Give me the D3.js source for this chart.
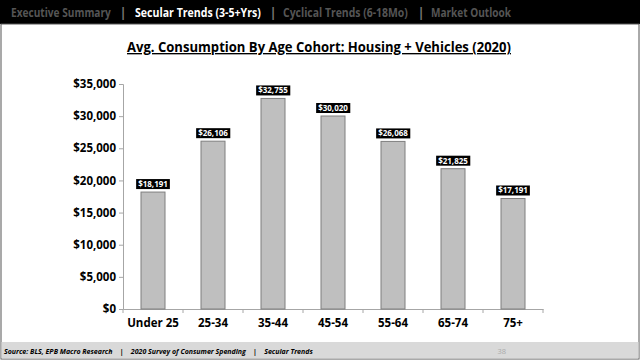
<!DOCTYPE html>
<html><head><meta charset="utf-8">
<script src="https://cdn.jsdelivr.net/npm/d3@7/dist/d3.min.js"></script>
<style>body{margin:0;background:#fff}svg{display:block}</style>
</head><body>
<script>
const categories = ["Under 25","25-34","35-44","45-54","55-64","65-74","75+"];
const values = [18191,26106,32755,30020,26068,21825,17191];
const yTicks = [0,5000,10000,15000,20000,25000,30000,35000];
const navItems = ["Executive Summary","Secular Trends (3-5+Yrs)","Cyclical Trends (6-18Mo)","Market Outlook"];
const title = "Avg. Consumption By Age Cohort: Housing + Vehicles (2020)";
const footerText = "Source: BLS, EPB Macro Research    |    2020 Survey of Consumer Spending    |    Secular Trends";

const W=640,H=360;
const svg=d3.select("body").append("svg").attr("width",W).attr("height",H);
const font="'Open Sans','DejaVu Sans',sans-serif";

// frame
svg.append("rect").attr("x",0).attr("y",0).attr("width",W).attr("height",H).attr("fill","#fff");
svg.append("rect").attr("x",0).attr("y",0).attr("width",W).attr("height",24).attr("fill","#000");
svg.append("rect").attr("x",1).attr("y",24).attr("width",W-2).attr("height",H-25).attr("fill","none").attr("stroke","#555").attr("stroke-width",1);
svg.append("rect").attr("x",1.5).attr("y",342).attr("width",W-3).attr("height",16.5).attr("fill","#d9d9d9");

// nav
const navX=[11,135,283,431];
const navW=[100,126,125,80];
const sepX=[123,273,421];
navItems.forEach((t,i)=>{
  const g=svg.append("g");
  const el=g.append("text").attr("x",0).attr("y",0).attr("font-family",font).attr("font-weight","bold")
    .attr("font-size",13).attr("fill",i===1?"#fff":"#555").text(t);
  const w=el.node().getComputedTextLength();
  g.attr("transform",`translate(${navX[i]},17) scale(${navW[i]/w},1)`);
});
sepX.forEach(x=>svg.append("text").attr("x",x).attr("y",17).attr("text-anchor","middle").attr("font-family",font).attr("font-size",13).attr("font-weight","bold").attr("fill","#777").text("|"));

// title
svg.append("text").attr("x",319).attr("y",52).attr("text-anchor","middle").attr("font-family",font)
  .attr("font-weight","bold").attr("font-size",13.5).attr("fill","#000").attr("text-decoration","underline")
  .attr("textLength",384).attr("lengthAdjust","spacingAndGlyphs").text(title);

// scales
const x=d3.scaleBand().domain(categories).range([123,543]).paddingInner(0.6).paddingOuter(0.3);
const y=d3.scaleLinear().domain([0,35000]).range([309,84]);

// y axis
const ya=svg.append("g").attr("transform","translate(123,0)")
  .call(d3.axisLeft(y).tickValues(yTicks).tickSize(4).tickFormat(d=>"$"+d3.format(",")(d)));
ya.select(".domain").attr("stroke","#a6a6a6");
ya.selectAll(".tick line").attr("stroke","#a6a6a6");
ya.selectAll("text").attr("font-family",font).attr("font-weight","bold").attr("font-size",11.5).attr("fill","#000").attr("x",-7);

// x axis
const xa=svg.append("g").attr("transform","translate(0,309)")
  .call(d3.axisBottom(x).tickSize(0));
xa.select(".domain").attr("stroke","#a6a6a6");
xa.selectAll("text").attr("font-family",font).attr("font-weight","bold").attr("font-size",11.5).attr("fill","#000").attr("dy","1.3em");
const bounds=d3.range(categories.length+1).map(i=>123+i*(420/categories.length));
xa.selectAll(".bt").data(bounds).enter().append("line").attr("x1",d=>d).attr("x2",d=>d).attr("y1",0).attr("y2",4).attr("stroke","#a6a6a6");

// bars
svg.selectAll(".bar").data(values).enter().append("rect")
  .attr("x",(d,i)=>x(categories[i])).attr("y",d=>y(d)).attr("width",x.bandwidth()).attr("height",d=>309-y(d))
  .attr("fill","#bfbfbf").attr("stroke","#7f7f7f").attr("stroke-width",1);

// labels
values.forEach((v,i)=>{
  const cx=x(categories[i])+x.bandwidth()/2;
  const g=svg.append("g");
  const t=g.append("text").attr("x",cx).attr("y",y(v)-5).attr("text-anchor","middle").attr("font-family",font)
    .attr("font-weight","bold").attr("font-size",8).attr("fill","#fff").text("$"+d3.format(",")(v));
  const bb=t.node().getBBox();
  g.insert("rect","text").attr("x",bb.x-2).attr("y",y(v)-13).attr("width",bb.width+4).attr("height",10).attr("fill","#000");
});

// footer
svg.append("text").attr("x",4).attr("y",354).attr("font-family",font).attr("font-style","italic").attr("font-weight","bold")
  .attr("font-size",7).attr("fill","#000").attr("xml:space","preserve").style("white-space","pre").text(footerText);
svg.append("text").attr("x",506).attr("y",354).attr("text-anchor","end").attr("font-family",font)
  .attr("font-size",7.5).attr("fill","#aaa").text("38");
</script>
</body></html>
